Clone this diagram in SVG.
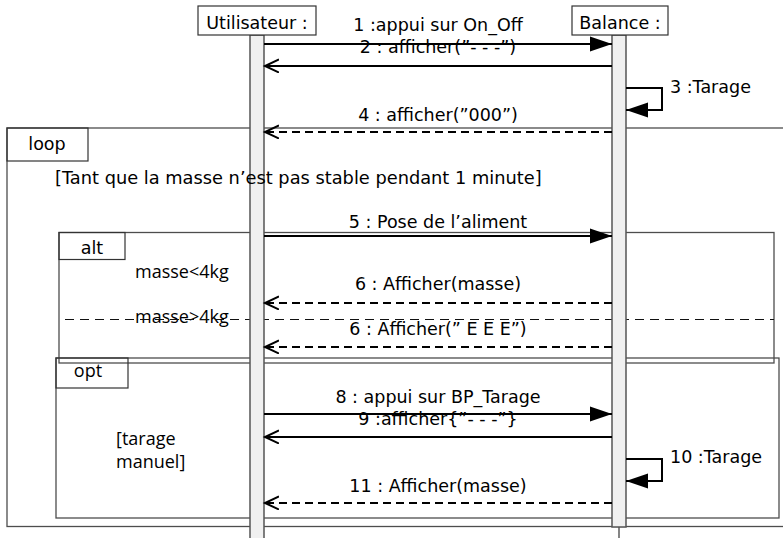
<svg xmlns="http://www.w3.org/2000/svg" width="783" height="538" viewBox="0 0 783 538">
  <style>
    .lbl { font-family: "DejaVu Sans", "Liberation Sans", sans-serif; font-size: 17.5px; fill: #000; }
    .mid { text-anchor: middle; }
    .alt-font { font-family: "Open Sans", "DejaVu Sans", sans-serif; font-size: 18px; fill: #000; }
    .frame { fill: none; stroke: #4d4d4d; stroke-width: 1.3; }
    .tab { fill: none; stroke: #333; stroke-width: 1.2; }
    .head { fill: #fff; stroke: #333; stroke-width: 1.2; }
    .bar { fill: #f0f0f0; stroke: #555; stroke-width: 1.5; }
    .sync { fill: none; stroke: #000; stroke-width: 2; marker-end: url(#filled); }
    .reply { fill: none; stroke: #000; stroke-width: 2; marker-end: url(#open); }
    .dashed { stroke-dasharray: 8 5; }
    .divider { fill: none; stroke: #111; stroke-width: 1.1; stroke-dasharray: 9 6; }
  </style>
  <defs>
    <marker id="filled" markerUnits="userSpaceOnUse" markerWidth="24" markerHeight="18" refX="22" refY="8" orient="auto">
      <path d="M0,0.5 L22,8 L0,15.5 Z" fill="#000" stroke="none"/>
    </marker>
    <marker id="open" markerUnits="userSpaceOnUse" markerWidth="18" markerHeight="16" refX="14" refY="7" orient="auto">
      <path d="M0,0.5 L14,7 L0,13.5" fill="none" stroke="#000" stroke-width="2" stroke-dasharray="none"/>
    </marker>
  </defs>
  <rect width="783" height="538" fill="#fff"/>

  <!-- combined fragments -->
  <g id="loop">
    <rect class="frame" x="7" y="128" width="800" height="398.5"/>
    <rect class="tab" x="7" y="128" width="81" height="33"/>
    <text class="lbl mid" x="47" y="150">loop</text>
  </g>
  <g id="alt">
    <rect class="frame" x="59" y="232.5" width="715" height="130.5"/>
    <rect class="tab" x="59" y="232.5" width="66" height="27"/>
    <text class="lbl mid" x="92" y="254">alt</text>
    <text class="alt-font" x="135" y="278">masse&lt;4kg</text>
    <text class="alt-font" x="135" y="323">masse&gt;4kg</text>
    <line class="divider" x1="65" y1="319.5" x2="774" y2="319.5"/>
  </g>
  <g id="opt">
    <rect class="frame" x="56" y="358" width="723" height="160"/>
    <rect class="tab" x="56" y="358" width="72" height="30"/>
    <text class="alt-font mid" x="88" y="377">opt</text>
    <text class="alt-font" x="116" y="445">[tarage</text>
    <text class="alt-font" x="116" y="468">manuel]</text>
  </g>

  <!-- lifelines -->
  <g id="utilisateur">
    <rect class="bar" x="250" y="35" width="14" height="510"/>
    <rect class="head" x="198" y="6" width="118" height="29"/>
    <text class="lbl mid" x="257" y="29">Utilisateur :</text>
  </g>
  <g id="balance">
    <line x1="619" y1="527" x2="619" y2="538" stroke="#333" stroke-width="1.2"/>
    <rect class="bar" x="612" y="35" width="14" height="492"/>
    <rect class="head" x="572" y="6" width="96" height="29"/>
    <text class="lbl mid" x="620" y="29">Balance :</text>
  </g>

  <!-- loop guard, written over the lifeline -->
  <g id="loop-guard">
    <text class="lbl" x="55" y="184" style="font-size:17.8px">[Tant que la masse n’est pas stable pendant 1 minute]</text>
  </g>

  <!-- messages -->
  <g id="messages">
    <g id="m1">
      <line class="sync" x1="264" y1="44" x2="612" y2="44"/>
      <text class="lbl mid" x="438" y="31">1 :appui sur On_Off</text>
    </g>
    <g id="m2">
      <line class="reply" x1="612" y1="66" x2="265" y2="66"/>
      <text class="lbl mid" x="438" y="53">2 : afficher(”- - -”)</text>
    </g>
    <g id="m3">
      <path class="sync" d="M626,88 H662 V110 H626"/>
      <text class="lbl" x="670" y="93">3 :Tarage</text>
    </g>
    <g id="m4">
      <line class="reply dashed" x1="612" y1="132" x2="265" y2="132"/>
      <text class="lbl mid" x="438" y="121">4 : afficher(”000”)</text>
    </g>
    <g id="m5">
      <line class="sync" x1="264" y1="236" x2="612" y2="236"/>
      <text class="lbl mid" x="438" y="228">5 : Pose de l’aliment</text>
    </g>
    <g id="m6a">
      <line class="reply dashed" x1="612" y1="303" x2="265" y2="303"/>
      <text class="lbl mid" x="438" y="290">6 : Afficher(masse)</text>
    </g>
    <g id="m6b">
      <line class="reply dashed" x1="612" y1="347" x2="265" y2="347"/>
      <text class="lbl mid" x="438" y="335">6 : Afficher(” E E E”)</text>
    </g>
    <g id="m8">
      <line class="sync" x1="264" y1="414" x2="612" y2="414"/>
      <text class="lbl mid" x="438" y="403">8 : appui sur BP_Tarage</text>
    </g>
    <g id="m9">
      <line class="reply" x1="612" y1="437" x2="265" y2="437"/>
      <text class="lbl mid" x="438" y="425">9 :afficher{”- - -”}</text>
    </g>
    <g id="m10">
      <path class="sync" d="M626,459 H662 V481 H626"/>
      <text class="lbl" x="670" y="463">10 :Tarage</text>
    </g>
    <g id="m11">
      <line class="reply dashed" x1="612" y1="503" x2="265" y2="503"/>
      <text class="lbl mid" x="438" y="492">11 : Afficher(masse)</text>
    </g>
  </g>
</svg>
